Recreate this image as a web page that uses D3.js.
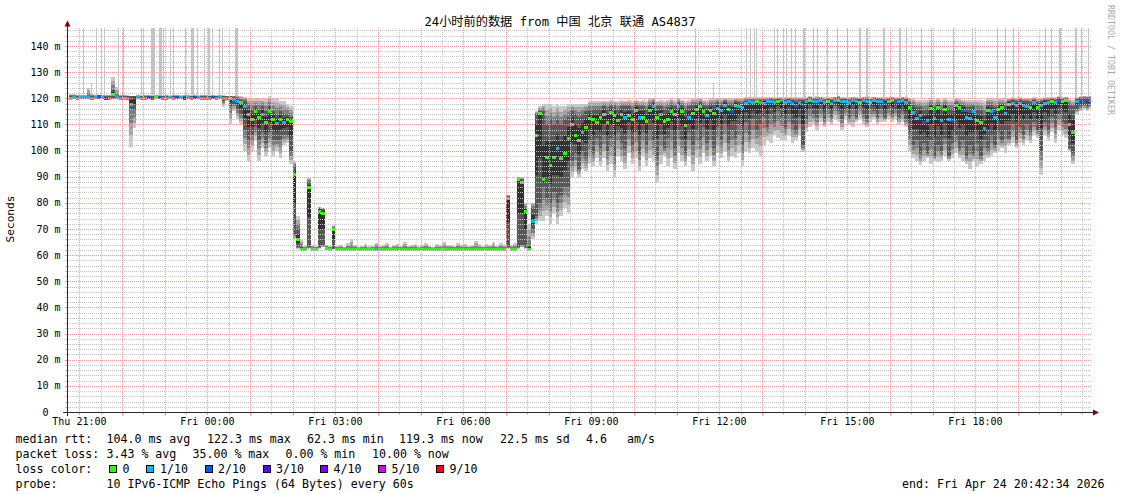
<!DOCTYPE html>
<html><head><meta charset="utf-8">
<script src="https://cdn.jsdelivr.net/npm/d3@7"></script>
<style>
html,body{margin:0;padding:0;background:#fff;}
svg text{font-family:"DejaVu Sans Mono","Noto Sans CJK SC",monospace;white-space:pre;}
</style></head><body>
<svg id="c" width="1121" height="494"></svg>
<script>
// ---------------- data ----------------
const title = "24小时前的数据 from 中国 北京 联通 AS4837";
const yAxisTitle = "Seconds";
const watermark = "RRDTOOL / TOBI OETIKER";
const startTime = "2026-04-23 20:42:34";
const endTime = "2026-04-24 20:42:34";
const firstSample = "2026-04-23 20:45:00";
const stepMinutes = 5;

// median RTT per 5-minute step (ms)
const median = [
120.3,120.4,120.2,120.5,120.6,120.4,120.3,120.5,120.7,120.4,
120.2,120.3,121.8,120.4,120.3,120.3,120.2,118,120,120.4,
120.3,120.2,120.4,120.3,120.5,120.4,120.3,120.2,120.4,120.3,
120.5,120.4,120.3,120.4,120.2,120.5,120.4,120.3,120.2,120.3,
120.4,120.3,120.4,120.2,120.3,120.2,119.8,119,118.5,117,
114,112,115,113,114,111,115,112,110.5,112,
111,112,111.5,91,66,62.5,62.5,86,62.5,62.5,
77,76,62.8,62.5,70,62.3,62.4,62.3,62.2,62.4,
62.3,62.3,62.4,62.2,62.3,62.3,62.4,62.3,62.2,62.3,
62.4,62.3,62.3,62.2,62.4,62.3,62.3,62.4,62.2,62.3,
62.3,62.4,62.2,62.3,62.3,62.4,62.3,62.2,62.3,62.4,
62.3,62.3,62.2,62.4,62.3,62.3,62.4,62.2,62.3,62.3,
62.4,62.3,62.3,82,62.5,62.4,89,88,77,62.5,
73,106,114.5,89,97.5,94.5,97.5,101,97,99,
105,110,106,104,107,109,112.5,112,111,113,
114,111,114.8,113.5,111.7,114,112.8,113.5,112,115.5,
113,113,111.5,115.5,117,113,114,111.5,112,115,
114,117,115,109.8,113,114.5,116,117.2,115,113.5,
115.5,114.5,116.3,115.5,117.4,116,115,117.4,117,116.5,
118.2,118.8,118.5,119,118.5,118.3,118.8,119,118.5,119,
119.2,118.5,119,118.2,117.6,118.5,118,119,119.2,118.8,
119,119.3,118.6,119,118.2,119.2,119.4,118.8,119,118.5,
119.2,119,118.7,119.3,119,118.5,119.2,119,118.8,118.2,
119,119.2,118.5,119,119.2,118.6,116.7,114.8,112.5,113.5,
110.9,111.7,116.3,112.5,116.5,111.7,116,112,111.7,117.4,
116.5,115.5,113,112.5,115,111.7,111,108.6,115.5,115,
113,116,116.5,114.5,118,118.2,117.5,118.2,117.5,117,
116.8,118.6,116.5,117.5,118.2,118.5,119,118.6,119.4,119,
119.2,110,107,119,119.4,119.5,119.4,119.5
];
// lost pings out of 10 per step
const loss = [
0,1,1,1,1,1,1,1,2,1,
2,1,0,1,1,0,1,1,3,1,
1,1,2,2,0,2,1,1,1,1,
2,1,4,1,1,2,1,1,1,1,
2,1,1,1,1,0,1,1,0,1,
0,0,0,0,1,0,0,0,1,0,
1,0,0,0,0,0,0,0,0,0,
0,0,0,0,0,0,0,0,0,0,
0,0,0,0,0,0,1,0,0,0,
0,0,0,0,0,0,0,0,0,0,
0,0,0,0,0,0,0,0,0,0,
0,0,0,0,0,0,0,0,0,0,
0,0,0,0,0,0,0,0,0,0,
1,0,0,0,0,0,0,1,0,0,
0,0,0,0,1,0,0,0,0,0,
0,0,0,0,0,0,1,0,0,0,
1,0,0,0,1,0,1,0,0,0,
0,1,0,0,1,0,0,0,0,1,
0,0,1,1,1,0,2,0,1,1,
1,1,1,0,1,1,1,1,1,0,
1,1,1,1,2,1,2,1,0,1,
1,1,1,0,1,1,0,1,1,1,
1,1,0,1,1,0,1,1,1,2,
0,0,2,1,1,1,0,1,1,1,
2,1,0,1,0,1,0,1,2,0,
0,2,1,1,1,0,0,1,0,1,
1,0,0,1,0,1,1,1,1,1,
0,1,0,1,1,1,0,1,2,0,
0,0,0,1,2,2,2,1
];
// lowest ping of the step (ms)
const low = [
119.6,119.6,119.6,119.6,119.6,119.6,119.6,119.6,119.6,119.6,
119.6,119.6,119.6,119.6,119.6,119.6,119.6,101.4,108.6,119.6,
119.6,119.6,119.6,119.6,119.6,119.6,119.6,119.6,119.6,119.6,
119.6,119.6,119.6,119.6,119.6,119.6,119.6,119.6,119.6,119.6,
119.6,119.6,119.6,116.5,119,110,115,112,110,100,
96,100,104,96,101,98,101,98,100,97,
102,103,95,66,62.5,62,62,62.5,62,62,
62.5,63,62,62,62.3,62,62,62,62,62,
62,62,62,62,62,62,62,62,62,62,
62,62,62,62,62,62,62,62,62,62,
62,62,62,62,62,62,62,62,62,62,
62,62,62,62,62,62,62,62,62,62,
62,62,62,62.5,62,62,62.5,63,62.5,62,
66,72,73,73,75,72,76,72,75,78,
76,90,92,90,93,92,95,94,97,94,
97,92,95,90,98,96,93,99,95,97,
92,98,94,97,96,88,95,98,94,97,
93,99,96,94,98,92,97,95,99,96,
98,94,99,97,100,96,98,97,99,94,
100,99,101,100,98,102,104,103,106,105,
104,104,106,103,104,106,99.5,107,109,110,
108,111,109,111,110,112,111,108,112,110,
109,111,112,110,109,111,112,110,111,111,
112,111,112,110,111,109,100,97,96,94.5,
96,97,95,96,95.5,96,98,96,97,99,
97,96,95,93,96,94,95,96,97,98,
99,100,101,99,102,103,101,103,102,104,
103,106,105,90.7,106,104,107,103,108,106,
105,100,95,114,115,116,115,116
];
// highest ping of the step (ms)
const high = [
121.5,121.5,121.3,121.4,121.3,124,121.5,121.3,121.2,121.3,
121.2,121.4,128,124.3,121.3,121.2,121.1,121,121,121.2,
121.1,121.2,121.3,121.1,121.2,121.3,121.1,121.2,121.1,121.3,
121.2,121.1,121.2,121.3,121.1,121.2,121.1,121.2,121.3,121.1,
121.2,121.1,121.2,121.1,121,121,121,121,121,120.5,
120,120,120,120,120,120,121,120,120,119,
119,118,117,96,75,66,63.5,89.5,64,63.5,
78.5,78,64,63.5,71.5,63.5,64,63.2,64.5,66,
63.8,63.2,63.5,64.2,63.4,63.6,64.8,63.5,64,64.6,
63.3,63.8,64.2,63.5,65,63.6,63.9,64.3,63.4,63.8,
64.5,63.6,63.3,64.1,63.9,65.2,63.7,64,63.5,64.6,
63.8,64.2,63.5,63.9,65.3,64.1,63.6,64.4,63.8,64.9,
63.5,64.7,64,83,64,64.5,90,89.8,80,72,
80,115,117,118,118,118,117,118,117,117,
118,118,118,118,118,118,119,119,119,119,
119,119,119.5,119,119,119.5,119,119.5,119,119.5,
119,119.5,119,120,120,119,119.5,119,119.5,120,
119.5,120,119.5,119,119.5,120,120,120,119.5,119.5,
120,120,120,120,120,120,120,120,120,120,
120.5,120.5,120.5,120.5,120.5,120.5,120.5,120.5,120.5,120.5,
120.5,120.5,120.5,120.5,120.5,120.5,120.5,120.5,120.8,120.5,
121,120.5,120.5,120.5,120.5,120.5,121,120.5,120.5,120.5,
120.5,120.5,120.5,120.5,121,120.5,120.5,120.5,120.5,120.5,
120.5,120.5,120.5,120.5,120.5,120.5,120,120,119.5,119.5,
119.5,119.5,120,119.5,120,119.5,120,119.5,119.5,120,
120,119.5,119.5,119.5,119.5,119.5,119.5,119,120,120,
120,120,120,120,120,120.5,120,120.5,120,120,
120,120.5,120,120,120.5,120.5,120.5,120.5,120.8,120.5,
120.5,120,119.5,120.5,120.8,121,120.8,121
];
// lower edge of the dense (dark) smoke (ms)
const darkLow = [
119.9,119.9,119.9,119.9,119.9,119.9,119.9,119.9,119.9,119.9,
119.9,119.9,120,119.9,119.9,119.9,119.9,116,115.5,119.9,
119.9,119.9,119.9,119.9,119.9,119.9,119.9,119.9,119.9,119.9,
119.9,119.9,119.9,119.9,119.9,119.9,119.9,119.9,119.9,119.9,
119.9,119.9,119.9,119,119.9,117,118,116,114,108,
104,106,109,104,107,103,107,104,104,104,
106,106,100,68,63,62.2,62.2,63,62.2,62.2,
63,64,62.3,62.2,62.5,62.1,62.1,62.1,62.1,62.1,
62.1,62.1,62.1,62.1,62.1,62.1,62.1,62.1,62.1,62.1,
62.1,62.1,62.1,62.1,62.1,62.1,62.1,62.1,62.1,62.1,
62.1,62.1,62.1,62.1,62.1,62.1,62.1,62.1,62.1,62.1,
62.1,62.1,62.1,62.1,62.1,62.1,62.1,62.1,62.1,62.1,
62.1,62.1,62.1,63,62.2,62.2,63,64,63,62.3,
70,75,80,86,82,80,84,80,83,86,
86,96,99,93,100,97,104,99,105,101,
106,100,105,98,107,103,101,108,102,107,
99,107,102,108,104,97,106,101,105,108,
101,108,104,99,107,102,108,104,109,103,
108,101,109,104,110,103,108,105,110,102,
111,106,112,108,110,113,109,114,111,115,
113,109,114,110,108,113,102,112,116,114,
113,116,112,116,113,117,115,112,116,113,
116,113,117,114,112,116,115,113,116,113,
116,114,116,113,115,112,107,102,104,99,
103,99,104,98,102,100,105,98,103,106,
101,104,98,102,99,103,98,104,101,106,
102,107,104,108,105,110,104,109,106,110,
107,111,108,100,111,108,113,109,114,111,
110,101,99,116,117,117.5,117,118
];
// upper edge of the dense (dark) smoke (ms)
const darkHigh = [
120.8,120.8,120.8,120.8,120.8,120.8,120.8,120.8,120.8,120.8,
120.8,120.8,123,120.8,120.8,120.8,120.8,120.8,120.8,120.8,
120.8,120.8,120.8,120.8,120.8,120.8,120.8,120.8,120.8,120.8,
120.8,120.8,120.8,120.8,120.8,120.8,120.8,120.8,120.8,120.8,
120.8,120.8,120.8,120.8,120.8,120.8,120.5,120,119.5,119,
117,116,117,116,117,115,117,115,114,115,
114,114,113,94,70,63,62.8,88,62.8,62.8,
78,77.5,63,62.8,70.5,62.6,62.6,62.6,62.6,62.6,
62.6,62.6,62.6,62.6,62.6,62.6,62.6,62.6,62.6,62.6,
62.6,62.6,62.6,62.6,62.6,62.6,62.6,62.6,62.6,62.6,
62.6,62.6,62.6,62.6,62.6,62.6,62.6,62.6,62.6,62.6,
62.6,62.6,62.6,62.6,62.6,62.6,62.6,62.6,62.6,62.6,
62.6,62.6,62.6,82.5,62.8,62.8,89.5,89,78,64,
78,114,115,115,110,112,110,112,110,112,
113,115,114,113,114,115,116,116,116,116,
117,116,117,117,116,117,117,117,116,117.5,
117,117,116,118,118.5,117,117,116,116.5,117.5,
117,118.5,117.5,116,117,117.5,118,118.5,117.5,117,
118,117.5,118.5,118,119,118,118,119,118.5,118.5,
119,119.5,119.5,119.5,119.5,119.5,119.5,119.7,119.5,119.7,
119.8,119.5,119.7,119.5,119,119.5,119.5,119.7,120,119.7,
119.8,120,119.5,119.8,119.5,120,120,119.7,119.8,119.5,
120,119.8,119.6,120,119.8,119.5,120,119.8,119.6,119.5,
119.8,120,119.5,119.8,120,119.6,118.5,117.5,116.5,116.5,
115.5,116,118,116.5,118,116,118,116,116,118.5,
118,117.5,116.5,116.5,117,116,115.5,114,117.5,117.5,
116.5,118,118,117,119,119.3,119,119.3,119,118.8,
118.5,119.5,118.5,119,119.5,119.5,119.8,119.5,120,119.8,
120,118,117,119.8,120,120.2,120,120.2
];
// isolated very slow pings (tall light-grey needles)
const spikeTimes = [
"2026-04-23 21:05","2026-04-23 21:16","2026-04-23 21:23","2026-04-23 21:30","2026-04-23 21:35",
"2026-04-23 21:54","2026-04-23 22:02","2026-04-23 22:27","2026-04-23 22:30","2026-04-23 22:40",
"2026-04-23 22:43","2026-04-23 22:52","2026-04-23 22:55","2026-04-23 22:58","2026-04-23 23:07",
"2026-04-23 23:12","2026-04-23 23:28","2026-04-23 23:37","2026-04-23 23:40","2026-04-23 23:45",
"2026-04-23 23:55","2026-04-24 00:01","2026-04-24 00:06","2026-04-24 00:17","2026-04-24 00:21",
"2026-04-24 00:39","2026-04-24 00:42","2026-04-24 11:26","2026-04-24 11:51","2026-04-24 12:38",
"2026-04-24 12:43","2026-04-24 12:49","2026-04-24 12:52","2026-04-24 13:17","2026-04-24 13:21",
"2026-04-24 13:29","2026-04-24 13:34","2026-04-24 13:41","2026-04-24 13:46","2026-04-24 13:57",
"2026-04-24 14:12","2026-04-24 14:17","2026-04-24 14:31","2026-04-24 14:45","2026-04-24 14:59",
"2026-04-24 15:17","2026-04-24 15:26","2026-04-24 15:50","2026-04-24 16:13","2026-04-24 16:22",
"2026-04-24 16:44","2026-04-24 16:58","2026-04-24 17:29","2026-04-24 17:55","2026-04-24 18:30",
"2026-04-24 18:42","2026-04-24 18:53","2026-04-24 19:38","2026-04-24 19:47","2026-04-24 19:57",
"2026-04-24 20:20","2026-04-24 20:29","2026-04-24 20:39"
];
const spikeMinutes = [
1.4,1.4,1.5,1.5,1.5, 1.5,1.5,1.5,1.5,2.5, 2.5,2.5,1.5,1.5,1.5, 1.5,1.5,2.5,1.5,1.5,
1.5,2.5,1.5,1.5,1.5, 2.5,1.5,1.5,1.5,1.5, 1.5,1.5,1.5,1.5,1.5, 1.5,1.5,1.5,1.5,3,
1.5,1.5,1.5,1.5,1.5, 2.5,2.5,3,2.5,1.5, 1.5,1.5,1.5,1.5,1.5, 1.5,1.5,1.5,1.5,2.5,
3,1.5,1.5
];
const spikeTops = [
999,126,999,999,999, 999,999,999,999,999, 999,999,999,999,999, 999,999,999,999,999,
999,999,999,999,999, 999,999,999,126,999, 999,999,999,999,999, 999,999,999,999,999,
999,999,999,999,999, 999,999,999,999,999, 999,999,999,999,999, 999,999,999,999,999,
999,999,999
];

const lossLevels = [0,1,2,3,4,5,9];
const lossLabels = ["0","1/10","2/10","3/10","4/10","5/10","9/10"];
const lossColors = ["#26ff00","#00b8ff","#0059ff","#5e00ff","#7e00ff","#dd00ff","#ff0000"];

const yTickValues = [0,10,20,30,40,50,60,70,80,90,100,110,120,130,140];
const yTickLabels = ["0  ","10 m","20 m","30 m","40 m","50 m","60 m","70 m","80 m","90 m","100 m","110 m","120 m","130 m","140 m"];
const xLabelTimes = ["2026-04-23 21:00","2026-04-24 00:00","2026-04-24 03:00","2026-04-24 06:00","2026-04-24 09:00","2026-04-24 12:00","2026-04-24 15:00","2026-04-24 18:00"];

const rttLabel = "median rtt:";
const rttStats = ["104.0 ms avg","122.3 ms max","62.3 ms min","119.3 ms now","22.5 ms sd","4.6","am/s"];
const lossLabel = "packet loss:";
const lossStats = ["3.43 % avg","35.00 % max","0.00 % min","10.00 % now"];
const lossColorLabel = "loss color:";
const probeLabel = "probe:";
const probeText = "10 IPv6-ICMP Echo Pings (64 Bytes) every 60s";
const endText = "end: Fri Apr 24 20:42:34 2026";

// ---------------- drawing ----------------
const svg = d3.select("#c");
const parseS = d3.timeParse("%Y-%m-%d %H:%M:%S");
const parseM = d3.timeParse("%Y-%m-%d %H:%M");
const t0 = parseS(startTime), t1 = parseS(endTime), s0 = parseS(firstSample);
const X0 = 67, X1 = 1091, Y0 = 412;
const x = d3.scaleTime().domain([t0, t1]).range([X0, X1]);
const y = d3.scaleLinear().domain([0, 147]).range([Y0, 27.7]);
const YT = Math.round(y(147));

svg.append("rect").attr("width",1121).attr("height",494).attr("fill","#ffffff");
const defs = svg.append("defs");
defs.append("clipPath").attr("id","clip")
  .append("rect").attr("x",X0).attr("y",YT).attr("width",X1-X0).attr("height",Y0-YT);
const gridC = "#c4c4c4", mgridC = "#f39a9a";
[["hMin",2,1,gridC],["hMaj",2,1,mgridC],["vMin",1,2,gridC],["vMaj",1,2,mgridC]].forEach(p=>{
  defs.append("pattern").attr("id",p[0]).attr("patternUnits","userSpaceOnUse")
    .attr("x",0).attr("y",0).attr("width",p[1]).attr("height",p[2])
    .append("rect").attr("x",0).attr("y",0).attr("width",1).attr("height",1).attr("fill",p[3]);
});

const plot = svg.append("g").attr("clip-path","url(#clip)").attr("shape-rendering","crispEdges");

// needles
spikeTimes.forEach((s,k)=>{
  const t = parseM(s);
  const xa = Math.round(x(t));
  const w = Math.max(1, Math.round(x(d3.timeSecond.offset(t, spikeMinutes[k]*60)) - x(t)));
  const top = Math.min(spikeTops[k], 147);
  const ya = Math.round(y(top)), yb = Math.round(y(120));
  plot.append("rect").attr("x",xa).attr("y",ya).attr("width",w).attr("height",yb-ya).attr("fill","#c4c4c4");
});

// smoke
const shades = ["#cacaca","#a4a4a4","#7e7e7e","#585858","#323232"];
const lossColor = l => lossColors[Math.max(0, lossLevels.findIndex(v => l <= v))];
median.forEach((m,i)=>{
  const ta = d3.timeMinute.offset(s0, stepMinutes*i), tb = d3.timeMinute.offset(s0, stepMinutes*(i+1));
  const xa = Math.round(x(ta)), xb = Math.round(x(tb));
  const lo = Math.min(low[i], m), hi = Math.max(high[i], m);
  const dl = Math.max(lo, Math.min(darkLow[i], m)), dh = Math.min(hi, Math.max(darkHigh[i], m));
  const bands = [
    [lo, hi],
    [lo + (dl-lo)*0.3, hi + (dh-hi)*0.3],
    [lo + (dl-lo)*0.62, hi + (dh-hi)*0.62],
    [dl, dh],
    [dl + (m-dl)*0.5, dh + (m-dh)*0.5]
  ];
  bands.forEach((b,k)=>{
    const ya = Math.round(y(b[1])), yb = Math.round(y(b[0]));
    if (yb - ya < 1) return;
    plot.append("rect").attr("x",xa).attr("y",ya).attr("width",xb-xa).attr("height",yb-ya).attr("fill",shades[k]);
  });
});
median.forEach((m,i)=>{
  const ta = d3.timeMinute.offset(s0, stepMinutes*i), tb = d3.timeMinute.offset(s0, stepMinutes*(i+1));
  const xa = Math.round(x(ta)), xb = Math.round(x(tb));
  plot.append("rect").attr("x",xa).attr("y",Math.round(y(m))-1).attr("width",xb-xa).attr("height",3)
    .attr("fill", lossColor(loss[i]));
});

// grid (on top, dotted)
const grid = svg.append("g").attr("shape-rendering","crispEdges");
d3.range(2, 147, 2).forEach(v=>{
  const yy = Math.round(y(v));
  const major = v % 10 === 0;
  grid.append("rect").attr("x",X0+1).attr("y",yy).attr("width",X1-X0-1).attr("height",1)
    .attr("fill", major ? "url(#hMaj)" : "url(#hMin)");
  grid.append("rect").attr("x",X0-2).attr("y",yy).attr("width",2).attr("height",1)
    .attr("fill", major ? mgridC : gridC);
});
d3.timeMinute.every(30).range(t0, t1).forEach(t=>{
  const xx = Math.round(x(t));
  const major = t.getMinutes() === 0;
  grid.append("rect").attr("x",xx).attr("y",YT).attr("width",1).attr("height",Y0-YT)
    .attr("fill", major ? "url(#vMaj)" : "url(#vMin)");
  grid.append("rect").attr("x",xx).attr("y",Y0+1).attr("width",1).attr("height",2)
    .attr("fill", major ? mgridC : gridC);
});

// axes
const axisC = "#2a2a2a";
svg.append("line").attr("x1",X0+0.5).attr("x2",X0+0.5).attr("y1",Y0+4).attr("y2",23).attr("stroke",axisC).attr("shape-rendering","crispEdges");
svg.append("line").attr("x1",X0-4).attr("x2",1094).attr("y1",Y0+0.5).attr("y2",Y0+0.5).attr("stroke",axisC).attr("shape-rendering","crispEdges");
svg.append("path").attr("d",`M${X0-2.5},26.5 L${X0+3.5},26.5 L${X0+0.5},20.5 Z`).attr("fill","#7f0000");
svg.append("path").attr("d",`M1093,${Y0-2.5} L1093,${Y0+3.5} L1099,${Y0+0.5} Z`).attr("fill","#7f0000");

// y labels
yTickValues.forEach((v,k)=>{
  svg.append("text").attr("x",60.5).attr("y",y(v)+3.5).attr("text-anchor","end")
    .attr("font-size","10px").attr("fill","#000").text(yTickLabels[k]);
});
// x labels
const fmt = d3.timeFormat("%a %H:%M");
xLabelTimes.forEach(s=>{
  const t = parseM(s);
  svg.append("text").attr("x",x(t)).attr("y",425).attr("text-anchor","middle")
    .attr("font-size","10px").attr("fill","#000").text(fmt(t));
});

// title & side texts
svg.append("text").attr("x",560).attr("y",25.5).attr("text-anchor","middle")
  .attr("font-size","12.2px").attr("fill","#000").text(title);
svg.append("text").attr("transform","translate(14,219) rotate(-90)").attr("text-anchor","middle")
  .attr("font-size","11.2px").attr("fill","#000").text(yAxisTitle);
svg.append("text").attr("transform","translate(1107.5,5) rotate(90)").attr("text-anchor","start")
  .attr("font-size","8.3px").attr("fill","#a8a8a8").text(watermark);

// legend
const lf = "11.6px";
const L = (tx, xx, yy, anchor) => svg.append("text").attr("x",xx).attr("y",yy)
  .attr("text-anchor", anchor || "start").attr("font-size",lf).attr("fill","#000").text(tx);
const r1 = 443, r2 = 458, r3 = 473, r4 = 488;
L(rttLabel, 15.5, r1);
[106.5, 207, 307, 399, 500, 586, 627].forEach((xx,k)=> L(rttStats[k], xx, r1));
L(lossLabel, 15.5, r2);
[106.5, 192.5, 285.5, 372].forEach((xx,k)=> L(lossStats[k], xx, r2));
L(lossColorLabel, 15.5, r3);
const boxX = [109, 146, 205, 263, 320, 378, 436];
const labX = [122.5, 160, 218, 276, 333.5, 391.5, 449.5];
lossLabels.forEach((lab,k)=>{
  svg.append("rect").attr("x",boxX[k]+0.5).attr("y",465.5).attr("width",7).attr("height",7)
    .attr("fill",lossColors[k]).attr("stroke","#000").attr("stroke-width",1);
  L(lab, labX[k], r3);
});
L(probeLabel, 15.5, r4);
L(probeText, 106.5, r4);
L(endText, 1104.5, r4, "end");
</script>
</body></html>
